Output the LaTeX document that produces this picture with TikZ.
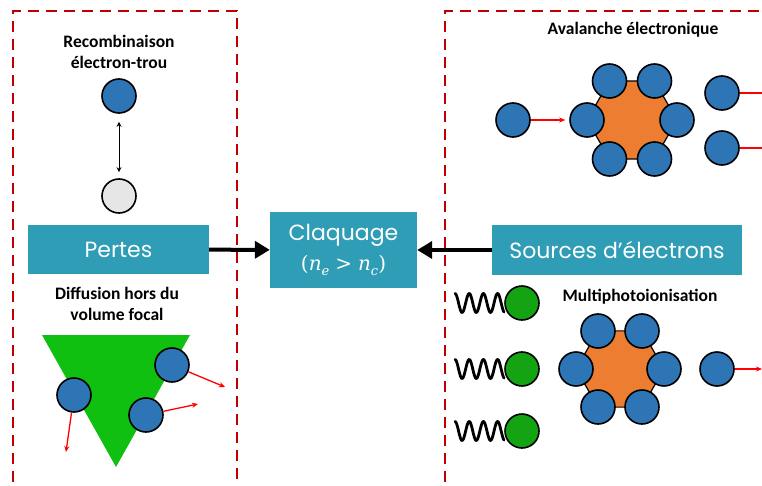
\documentclass[tikz,border=0pt]{standalone}
\usepackage{fontspec}
\setmainfont{Carlito}
\newfontfamily\boxfont{Poppins}
\newfontfamily\mathlike{DejaVu Serif}
\usetikzlibrary{arrows.meta,shapes.geometric}
\definecolor{elecblue}{HTML}{2E75B6}
\definecolor{holegray}{HTML}{E6E6E6}
\definecolor{boxteal}{HTML}{2E9DB5}
\definecolor{dashred}{HTML}{C00000}
\definecolor{ionorange}{HTML}{ED7D31}
\definecolor{photgreen}{HTML}{13A313}
\definecolor{trigreen}{HTML}{10C010}
\newcommand{\lowidx}[1]{\raisebox{-0.28em}{\fontsize{13}{13}\selectfont\itshape #1}}
\begin{document}
\begin{tikzpicture}[x=1pt,y=-1pt,
  particle/.style={circle,draw=black,line width=1.6pt,minimum size=34pt,inner sep=0pt},
  elec/.style={particle,fill=elecblue},
  hole/.style={particle,fill=holegray},
  phot/.style={particle,fill=photgreen},
  ion/.style={regular polygon,regular polygon sides=6,fill=ionorange,draw=black,line width=1.2pt,inner sep=0pt},
  mainbox/.style={fill=boxteal,text=white,font=\boxfont\fontsize{22}{30}\selectfont,inner sep=0pt,align=center},
  lbl/.style={font=\bfseries\fontsize{17.5}{21}\selectfont,align=center},
  zone/.style={draw=dashred,line width=2.5pt,dash pattern=on 11pt off 7pt},
  bigarrow/.style={line width=4pt,-{Triangle[length=15pt,width=17pt]}},
  redarrow/.style={draw=red,line width=1.3pt,-{Stealth[length=6pt,width=5pt]}},
  redline/.style={draw=red,line width=1.5pt},
  wave/.style={line width=2.8pt,line join=round,line cap=round}
]
\useasboundingbox (0,0) rectangle (762,486);

% dashed zones
\draw[zone] (13,500) -- (13,11) -- (237,11) -- (237,500);
\draw[zone] (445,500) -- (445,11) -- (780,11);

% ---------- left: Pertes ----------
\node[lbl] (recomb) at (119,52) {Recombinaison\\électron-trou};
\node[elec] (e1) at (119,96) {};
\node[hole] (h1) at (119,196) {};
\draw[line width=1pt,{Stealth[length=5pt,width=5pt]}-{Stealth[length=5pt,width=5pt]},shorten <=8pt,shorten >=6pt] (e1) -- (h1);

\node[mainbox,minimum width=181pt,minimum height=49pt] (pertes) at (118.5,249.5) {Pertes};

\node[lbl] (diff) at (117,304) {Diffusion hors du\\volume focal};
\fill[trigreen] (42,335) -- (190,335) -- (116,467) -- cycle;
\node[elec] (d1) at (74,395) {};
\node[elec] (d2) at (172,365) {};
\node[elec] (d3) at (146,415) {};
\coordinate (t1) at (66,452);
\coordinate (t2) at (225,387);
\coordinate (t3) at (198,404);
\draw[redarrow] (d1) -- (t1);
\draw[redarrow] (d2) -- (t2);
\draw[redarrow] (d3) -- (t3);

% ---------- centre ----------
\node[mainbox,minimum width=147pt,minimum height=76pt] (claq) at (343.5,250) {Claquage\\{\mathlike\fontsize{20}{30}\selectfont(\textit{n}\lowidx{e}\hspace{0.3em}>\hspace{0.3em}\textit{n}\lowidx{c})}};

% ---------- right: Sources ----------
\node[mainbox,minimum width=250pt,minimum height=50pt] (src) at (617,250) {Sources d’électrons};

\draw[bigarrow] (pertes) -- (claq);
\draw[bigarrow] (src) -- (claq);

% Avalanche
\node[lbl] (aval) at (633,30) {Avalanche électronique};
\node[ion,minimum size=90pt] (hexA) at (632,120) {};
\node[elec] (a1) at (677,120) {};
\node[elec] (a2) at (654.5,81) {};
\node[elec] (a3) at (609.5,81) {};
\node[elec] (a4) at (587,120) {};
\node[elec] (a5) at (609.5,159) {};
\node[elec] (a6) at (654.5,159) {};
\node[elec] (ain) at (513,120) {};
\draw[redarrow,shorten >=4pt] (ain) -- (a4);
\node[elec] (o1) at (722,93) {};
\node[elec] (o2) at (722,148) {};
\coordinate (oe1) at (780,93);
\coordinate (oe2) at (780,148);
\draw[redline] (o1) -- (oe1);
\draw[redline] (o2) -- (oe2);

% Multiphotoionisation
\node[lbl] (mpi) at (640,297) {Multiphotoionisation};
\foreach \yc/\nm in {303/p1,369/p2,431/p3}{
  \draw[wave] plot[smooth,samples=90,domain=0:49] ({455+\x},{\yc-9.5*cos(\x*25.35)});
  \node[phot] (\nm) at (522,\yc) {};
}
\node[ion,minimum size=88pt] (hexB) at (620,369) {};
\node[elec] (b1) at (664,369) {};
\node[elec] (b2) at (642,331) {};
\node[elec] (b3) at (598,331) {};
\node[elec] (b4) at (576,369) {};
\node[elec] (b5) at (598,407) {};
\node[elec] (b6) at (642,407) {};
\node[elec] (bout) at (717,369) {};
\coordinate (bend) at (762,369);
\draw[redarrow] (bout) -- (bend);
\end{tikzpicture}
\end{document}
